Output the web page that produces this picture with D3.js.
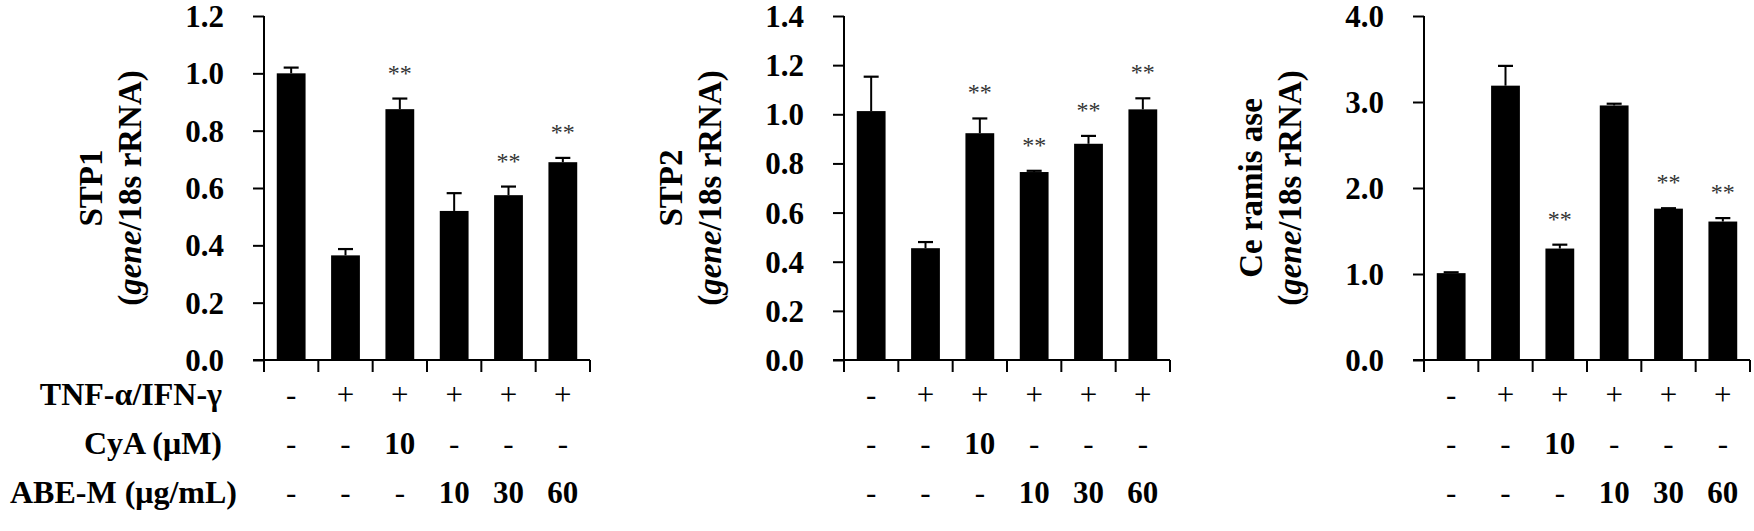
<!DOCTYPE html>
<html>
<head>
<meta charset="utf-8">
<script src="https://cdn.jsdelivr.net/npm/d3@7/dist/d3.min.js"></script>
<style>
  html, body { margin: 0; padding: 0; background: #fff; }
  svg { display: block; }
  text { font-family: "Liberation Serif", "Times New Roman", serif; }
</style>
</head>
<body>
<svg id="chart" width="1754" height="531"></svg>
<script>
// ---------- DATA ----------
const groups = ["Control", "TNF-α/IFN-γ", "CyA 10", "ABE-M 10", "ABE-M 30", "ABE-M 60"];

const stp1Mean = [1.00, 0.365, 0.875, 0.52, 0.575, 0.69];
const stp1Err  = [0.02, 0.022, 0.037, 0.062, 0.03, 0.015];
const stp1Sig  = ["", "", "**", "", "**", "**"];
const stp1Ticks = [0.0, 0.2, 0.4, 0.6, 0.8, 1.0, 1.2];

const stp2Mean = [1.013, 0.455, 0.923, 0.765, 0.88, 1.02];
const stp2Err  = [0.14, 0.025, 0.06, 0.005, 0.032, 0.045];
const stp2Sig  = ["", "", "**", "**", "**", "**"];
const stp2Ticks = [0.0, 0.2, 0.4, 0.6, 0.8, 1.0, 1.2, 1.4];

const ceraMean = [1.01, 3.19, 1.296, 2.96, 1.76, 1.61];
const ceraErr  = [0.01, 0.23, 0.045, 0.02, 0.005, 0.04];
const ceraSig  = ["", "", "**", "", "**", "**"];
const ceraTicks = [0.0, 1.0, 2.0, 3.0, 4.0];

const panelNames = ["STP1", "STP2", "Ce ramis ase"];

const rowLabels = ["TNF-α/IFN-γ", "CyA (μM)", "ABE-M (μg/mL)"];
const tnfRow = ["-", "+", "+", "+", "+", "+"];
const cyaRow = ["-", "-", "10", "-", "-", "-"];
const abeRow = ["-", "-", "-", "10", "30", "60"];

// ---------- LAYOUT ----------
const W = 1754, H = 531;
const yTop = 16, yBottom = 360;
const plotW = 326;
const axisXs = [264, 844, 1424];
const rowBaselines = [405, 454, 503];
const rowLabelRight = [222, 222, 237];

const svg = d3.select("#chart");
svg.append("rect").attr("width", W).attr("height", H).attr("fill", "#fff");

const panels = [
  {mean: stp1Mean, err: stp1Err, sig: stp1Sig, ticks: stp1Ticks},
  {mean: stp2Mean, err: stp2Err, sig: stp2Sig, ticks: stp2Ticks},
  {mean: ceraMean, err: ceraErr, sig: ceraSig, ticks: ceraTicks}
];
panels.forEach((p, i) => p.name = panelNames[i]);

const rows = [tnfRow, cyaRow, abeRow];

panels.forEach((p, pi) => {
  const x0 = axisXs[pi];
  const g = svg.append("g");
  const x = d3.scaleBand().domain(groups).range([x0, x0 + plotW]).paddingInner(0.47).paddingOuter(0.235);
  const y = d3.scaleLinear().domain([p.ticks[0], p.ticks[p.ticks.length - 1]]).range([yBottom, yTop]);
  const step = x.step();

  // bars
  g.selectAll("rect.bar").data(groups).join("rect")
    .attr("class", "bar")
    .attr("x", d => x(d))
    .attr("width", x.bandwidth())
    .attr("y", (d, i) => y(p.mean[i]))
    .attr("height", (d, i) => yBottom - y(p.mean[i]))
    .attr("fill", "#000");

  // error bars (upper only)
  const capW = 15;
  groups.forEach((d, i) => {
    const cx = x(d) + x.bandwidth() / 2;
    const top = y(p.mean[i] + p.err[i]);
    g.append("line").attr("x1", cx).attr("x2", cx)
      .attr("y1", y(p.mean[i])).attr("y2", top)
      .attr("stroke", "#000").attr("stroke-width", 2);
    g.append("line").attr("x1", cx - capW / 2).attr("x2", cx + capW / 2)
      .attr("y1", top).attr("y2", top)
      .attr("stroke", "#000").attr("stroke-width", 2.2);
    if (p.sig[i]) {
      g.append("text").attr("x", cx).attr("y", top - 18)
        .attr("text-anchor", "middle")
        .attr("font-size", 24).attr("fill", "#333")
        .text(p.sig[i]);
    }
  });

  // y axis
  const yAxis = d3.axisLeft(y).tickValues(p.ticks).tickSize(11).tickPadding(29)
    .tickFormat(d3.format(".1f"));
  const ya = g.append("g").attr("transform", `translate(${x0},0)`).call(yAxis);
  ya.select(".domain").attr("d", `M0,${yTop}V${yBottom}`).attr("stroke-width", 2);
  ya.selectAll(".tick line").attr("stroke-width", 2);
  ya.selectAll(".tick text")
    .attr("font-family", "'Liberation Serif', 'Times New Roman', serif")
    .attr("font-size", 31).attr("font-weight", "bold").attr("fill", "#000")
    .attr("dy", "0.34em");

  // x axis with boundary ticks
  const boundaries = d3.range(groups.length + 1).map(k => x0 + k * step);
  g.append("line").attr("x1", x0 - 11).attr("x2", x0 + plotW)
    .attr("y1", yBottom).attr("y2", yBottom)
    .attr("stroke", "#000").attr("stroke-width", 2);
  g.selectAll("line.xt").data(boundaries).join("line")
    .attr("class", "xt")
    .attr("x1", d => d).attr("x2", d => d)
    .attr("y1", yBottom).attr("y2", yBottom + 12)
    .attr("stroke", "#000").attr("stroke-width", 2);

  // y title
  g.append("text")
    .attr("transform", `translate(${x0 - 162},${(yTop + yBottom) / 2}) rotate(-90)`)
    .attr("text-anchor", "middle").attr("font-size", 33).attr("font-weight", "bold")
    .text(p.name);
  const t2 = g.append("text")
    .attr("transform", `translate(${x0 - 123},${(yTop + yBottom) / 2}) rotate(-90)`)
    .attr("text-anchor", "middle").attr("font-size", 33).attr("font-weight", "bold");
  t2.append("tspan").text("(");
  t2.append("tspan").attr("font-style", "italic").text("gene");
  t2.append("tspan").text("/18s rRNA)");

  // treatment rows
  rows.forEach((r, ri) => {
    g.selectAll(null).data(r).join("text")
      .attr("x", (d, i) => x(groups[i]) + x.bandwidth() / 2)
      .attr("y", rowBaselines[ri])
      .attr("text-anchor", "middle")
      .attr("font-size", 31)
      .attr("font-weight", d => (d === "-" || d === "+") ? "normal" : "bold")
      .text(d => d);
  });
});

// row labels
rowLabels.forEach((lab, ri) => {
  svg.append("text").attr("x", rowLabelRight[ri]).attr("y", rowBaselines[ri])
    .attr("text-anchor", "end").attr("font-size", 32).attr("font-weight", "bold")
    .text(lab);
});
</script>
</body>
</html>
